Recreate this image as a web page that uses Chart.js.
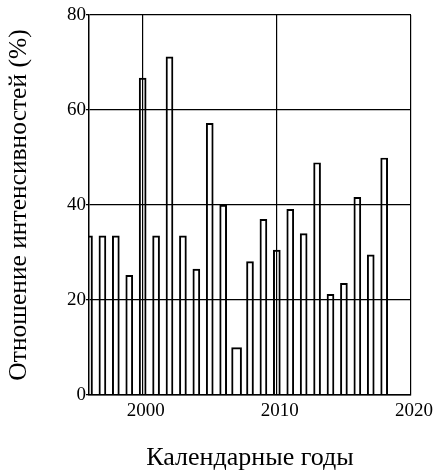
<!DOCTYPE html>
<html lang="ru">
<head>
<meta charset="utf-8">
<title>Отношение интенсивностей</title>
<script src="https://cdn.jsdelivr.net/npm/chart.js@4/dist/chart.umd.min.js"></script>
<style>
  html, body { margin: 0; padding: 0; background: #fff; }
  canvas { display: block; }
</style>
</head>
<body>
<canvas id="chart" width="433" height="470"></canvas>
<script>
// Calendar years and the intensity ratio (%) for each year
const years = [1996, 1997, 1998, 1999, 2000, 2001, 2002, 2003, 2004, 2005, 2006, 2007,
               2008, 2009, 2010, 2011, 2012, 2013, 2014, 2015, 2016, 2017, 2018];
const ratios = [33.5, 33.5, 33.5, 25.2, 66.7, 33.5, 71.2, 33.5, 26.5, 57.2, 40.0, 10.0,
                28.1, 37.0, 30.5, 39.1, 34.0, 48.9, 21.2, 23.5, 41.6, 29.5, 49.9];
// Years whose bar is drawn broader
const wideYears = [2007];
// Axis ticks
const xTicks = [2000, 2010, 2020];
const yTicks = [0, 20, 40, 60, 80];

const serif = "'Liberation Serif', 'Times New Roman', serif";
const points = years.map((y, i) => ({ x: y, y: ratios[i] }));

const barStyle = {
  backgroundColor: 'rgba(0,0,0,0)',
  borderColor: '#000',
  borderWidth: 1.3,
  borderSkipped: 'bottom',
  grouped: false,
  clip: { left: 0, top: false, right: false, bottom: false }
};

new Chart(document.getElementById('chart'), {
  type: 'bar',
  data: {
    datasets: [
      Object.assign({ label: 'Отношение интенсивностей',
        data: points.filter(p => !wideYears.includes(p.x)), barThickness: 7 }, barStyle),
      Object.assign({ label: 'Отношение интенсивностей',
        data: points.filter(p => wideYears.includes(p.x)), barThickness: 10 }, barStyle)
    ]
  },
  options: {
    responsive: false,
    animation: false,
    layout: { padding: { left: 0, top: 15, right: 22, bottom: 0 } },
    plugins: { legend: { display: false }, tooltip: { enabled: false } },
    scales: {
      x: {
        type: 'linear',
        min: 1996,
        max: 2020,
        offset: false,
        afterBuildTicks: s => { s.ticks = xTicks.map(v => ({ value: v })); },
        afterFit: s => { s.height = 75; s.paddingLeft = 0; s.paddingRight = 0; },
        grid: { color: '#000', lineWidth: 1.2, drawTicks: false, offset: false },
        border: { color: '#000', width: 1.5 },
        ticks: {
          color: '#000', font: { family: serif, size: 19 }, padding: 5, maxRotation: 0,
          labelOffset: 3,
          callback: v => String(v)
        },
        title: {
          display: true,
          text: 'Календарные годы',
          color: '#000',
          font: { family: serif, size: 26, lineHeight: 0.8 },
          padding: { top: 0, bottom: 1 }
        }
      },
      y: {
        min: 0,
        max: 80,
        afterBuildTicks: s => { s.ticks = yTicks.map(v => ({ value: v })); },
        afterFit: s => { s.width = 89; },
        grid: { color: '#000', lineWidth: 1.2, drawTicks: true, tickLength: 3 },
        border: { color: '#000', width: 1.5 },
        ticks: { color: '#000', font: { family: serif, size: 19 }, padding: 0 },
        title: {
          display: true,
          text: 'Отношение интенсивностей (%)',
          color: '#000',
          font: { family: serif, size: 25.5 },
          padding: { top: 4, bottom: 0 }
        }
      }
    }
  }
});
</script>
</body>
</html>
